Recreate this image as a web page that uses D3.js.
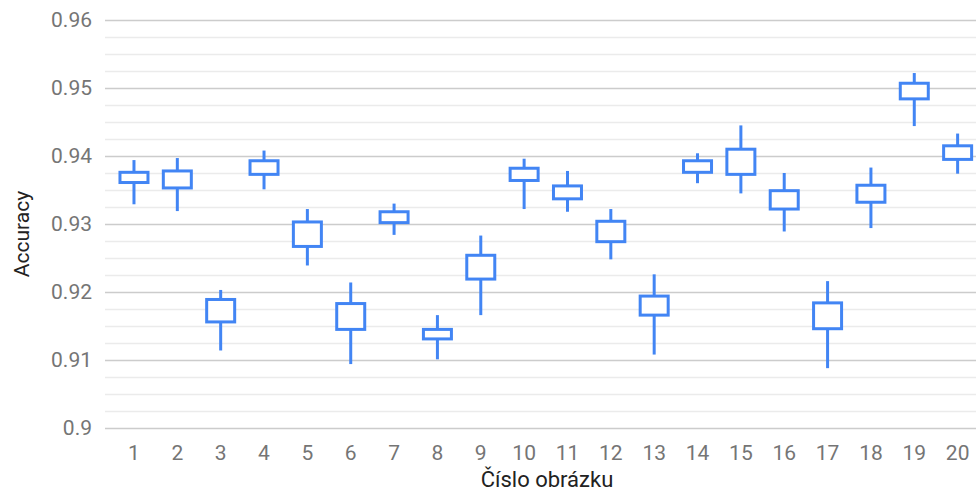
<!DOCTYPE html>
<html>
<head>
<meta charset="utf-8">
<script src="https://cdn.jsdelivr.net/npm/d3@7"></script>
<style>
  body { margin: 0; background: #fff; }
  svg { display: block; font-family: Roboto, "Noto Sans", sans-serif; }
</style>
</head>
<body>
<svg id="chart" width="976" height="491"></svg>
<script>
const categories = ["1","2","3","4","5","6","7","8","9","10","11","12","13","14","15","16","17","18","19","20"];
const lowValues   = [0.9329,0.9319,0.9114,0.9351,0.9239,0.9094,0.9284,0.9101,0.9166,0.9322,0.9318,0.9248,0.9108,0.9360,0.9345,0.9289,0.9088,0.9294,0.9444,0.9374];
const openValues  = [0.9361,0.9353,0.9156,0.9373,0.9267,0.9145,0.9302,0.9131,0.9219,0.9364,0.9337,0.9274,0.9166,0.9376,0.9373,0.9322,0.9146,0.9332,0.9484,0.9395];
const closeValues = [0.9376,0.9378,0.9189,0.9393,0.9303,0.9183,0.9318,0.9145,0.9254,0.9382,0.9356,0.9304,0.9194,0.9393,0.9410,0.9349,0.9184,0.9357,0.9507,0.9415];
const highValues  = [0.9394,0.9397,0.9203,0.9408,0.9322,0.9214,0.9330,0.9166,0.9283,0.9396,0.9378,0.9322,0.9226,0.9404,0.9445,0.9375,0.9216,0.9383,0.9522,0.9433];
const yTicks = [0.9,0.91,0.92,0.93,0.94,0.95,0.96];
const yMinorTicks = [0.9025,0.905,0.9075,0.9125,0.915,0.9175,0.9225,0.925,0.9275,0.9325,0.935,0.9375,0.9425,0.945,0.9475,0.9525,0.955,0.9575];
const xTitle = "Číslo obrázku";
const yTitle = "Accuracy";

const svg = d3.select("#chart");
const plotLeft = 105, plotRight = 976, plotTop = 20, plotBottom = 428;

const x = d3.scaleBand().domain(categories).range([112.3, 979.3]).padding(0);
const y = d3.scaleLinear().domain([0.9, 0.96]).range([plotBottom, plotTop]);

const data = categories.map((c, i) => ({
  c, low: lowValues[i], open: openValues[i], close: closeValues[i], high: highValues[i]
}));

// minor gridlines
svg.append("g").selectAll("line").data(yMinorTicks).join("line")
  .attr("x1", plotLeft).attr("x2", plotRight)
  .attr("y1", d => Math.round(y(d)) + 0.5).attr("y2", d => Math.round(y(d)) + 0.5)
  .attr("stroke", "#ebebeb").attr("stroke-width", 1.5);

// major gridlines + labels via axis
const yAxis = d3.axisLeft(y).tickValues(yTicks).tickSize(-(plotRight - plotLeft)).tickPadding(13)
  .tickFormat(d => d3.format("")(+d.toFixed(2)));
const gy = svg.append("g").attr("transform", `translate(${plotLeft},0)`).call(yAxis);
gy.select(".domain").remove();
gy.selectAll(".tick line").attr("stroke", "#cccccc").attr("stroke-width", 1.5);
gy.selectAll(".tick text").attr("fill", "#757575").attr("font-size", 21)
  .attr("font-family", "Roboto, sans-serif");

// x axis labels
const xAxis = d3.axisBottom(x).tickSize(0).tickPadding(0);
const gx = svg.append("g").attr("transform", `translate(0,${plotBottom})`).call(xAxis);
gx.select(".domain").remove();
gx.selectAll(".tick text").attr("fill", "#757575").attr("font-size", 21)
  .attr("font-family", "Roboto, sans-serif").attr("dy", null).attr("y", 32);

// candles
const blue = "#4285f4";
const boxW = 28;
const cg = svg.append("g");
const cx = d => x(d.c) + x.bandwidth() / 2;
cg.selectAll("line.wh").data(data).join("line").attr("class", "wh")
  .attr("x1", cx).attr("x2", cx)
  .attr("y1", d => y(d.high)).attr("y2", d => y(d.low))
  .attr("stroke", blue).attr("stroke-width", 3);
cg.selectAll("rect").data(data).join("rect")
  .attr("x", d => cx(d) - boxW / 2).attr("width", boxW)
  .attr("y", d => y(Math.max(d.open, d.close)))
  .attr("height", d => Math.abs(y(d.open) - y(d.close)))
  .attr("fill", "#ffffff").attr("stroke", blue).attr("stroke-width", 3);

// titles
svg.append("text").attr("x", 547).attr("y", 487).attr("text-anchor", "middle")
  .attr("font-size", 22).attr("fill", "#222222").text(xTitle);
svg.append("text").attr("transform", "translate(29,234) rotate(-90)").attr("text-anchor", "middle")
  .attr("font-size", 21).attr("fill", "#222222").text(yTitle);
</script>
</body>
</html>
